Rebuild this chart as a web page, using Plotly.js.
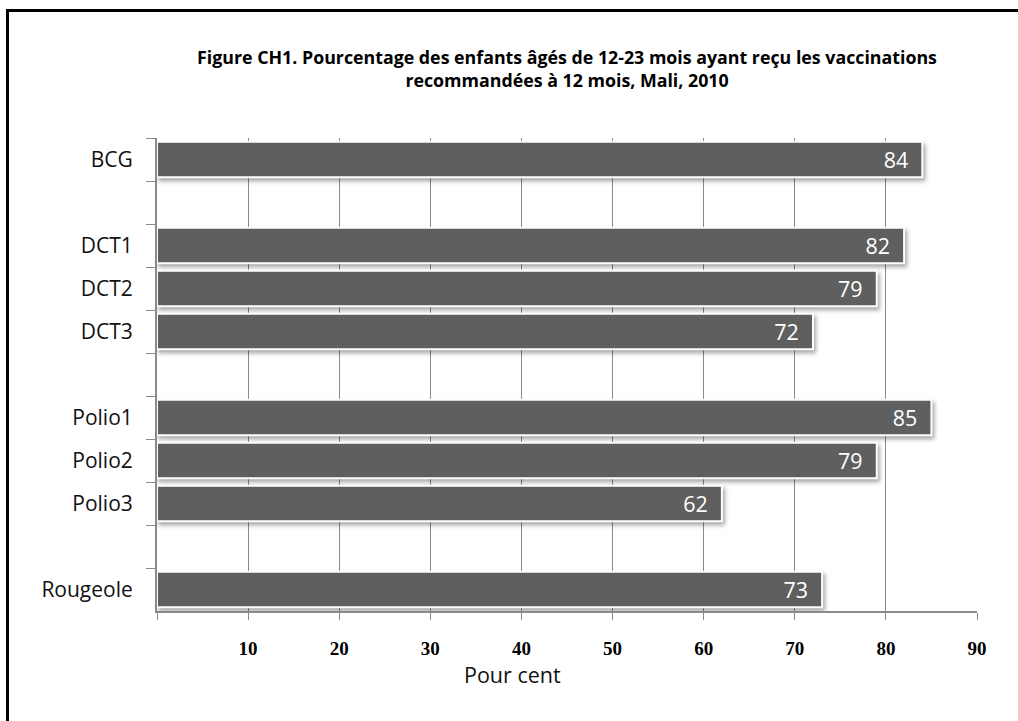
<!DOCTYPE html>
<html>
<head>
<meta charset="utf-8">
<script src="https://cdn.plot.ly/plotly-3.0.1.min.js"></script>
<style>
  html, body { margin: 0; padding: 0; background: #fff; }
  #frame {
    position: absolute; left: 6px; top: 9px; width: 1040px; height: 740px;
    border-left: 3px solid #000; border-top: 3px solid #000; pointer-events: none;
  }
  #chart { position: absolute; left: 0; top: 0; width: 1018px; height: 721px; }
  .barlayer .point path { filter: drop-shadow(2px 3px 2px rgba(0,0,0,0.35)); }
</style>
</head>
<body>
<div id="chart"></div>
<div id="frame"></div>
<script>
// Vaccination coverage, children aged 12-23 months, Mali 2010
const vaccines = ["BCG", "DCT1", "DCT2", "DCT3", "Polio1", "Polio2", "Polio3", "Rougeole"];
const coverage = [84, 82, 79, 72, 85, 79, 62, 73];
// Row order on the axis; blank rows separate the vaccine groups
const rowOrder = ["BCG", " ", "DCT1", "DCT2", "DCT3", "  ", "Polio1", "Polio2", "Polio3", "   ", "Rougeole"];
const xTickVals = [0, 10, 20, 30, 40, 50, 60, 70, 80, 90];
const xTickText = ["", "10", "20", "30", "40", "50", "60", "70", "80", "90"];

const trace = {
  type: "bar",
  orientation: "h",
  y: vaccines,
  x: coverage,
  // non-breaking spaces keep the value clear of the bar end
  texttemplate: "%{x}\u00a0\u00a0",
  textposition: "inside",
  insidetextanchor: "end",
  textfont: { family: "Open Sans, sans-serif", size: 22, color: "#ffffff" },
  marker: { color: "#5f5f5f", line: { color: "#ffffff", width: 2 } },
  width: 0.82,
  hoverinfo: "skip",
  cliponaxis: false
};

const layout = {
  width: 1018,
  height: 721,
  paper_bgcolor: "#ffffff",
  plot_bgcolor: "#ffffff",
  margin: { l: 157, r: 41, t: 138, b: 110, pad: 0 },
  showlegend: false,
  title: {
    text: "<b>Figure CH1. Pourcentage des enfants âgés de 12-23 mois ayant reçu les vaccinations<br>recommandées à 12 mois, Mali, 2010</b>",
    font: { family: "Open Sans, sans-serif", size: 17.8, color: "#000" },
    x: 0.557, xanchor: "center",
    y: 0.911, yanchor: "middle"
  },
  xaxis: {
    range: [0, 90],
    tickmode: "array",
    tickvals: xTickVals,
    ticktext: xTickText,
    ticks: "outside",
    ticklen: 7,
    tickcolor: "#8a8a8a",
    tickwidth: 1,
    ticklabelstandoff: 12,
    tickfont: { family: "Liberation Serif, serif", size: 19, color: "#000", weight: "bold" },
    showgrid: true,
    gridcolor: "#8a8a8a",
    gridwidth: 1,
    showline: true,
    linecolor: "#8a8a8a",
    linewidth: 2,
    zeroline: false,
    fixedrange: true
  },
  yaxis: {
    type: "category",
    categoryorder: "array",
    categoryarray: rowOrder,
    range: [10.5, -0.5],
    tickson: "boundaries",
    ticks: "outside",
    ticklen: 9,
    tickcolor: "#8a8a8a",
    tickwidth: 1,
    ticklabelstandoff: 18,
    tickfont: { family: "Open Sans, sans-serif", size: 21, color: "#111" },
    showgrid: false,
    showline: true,
    linecolor: "#8a8a8a",
    linewidth: 2,
    zeroline: false,
    fixedrange: true
  },
  annotations: [{
    text: "Pour cent",
    xref: "paper", yref: "paper",
    x: 0.434, y: -0.135,
    xanchor: "center", yanchor: "middle",
    showarrow: false,
    font: { family: "Open Sans, sans-serif", size: 21.5, color: "#111" }
  }]
};

Plotly.newPlot("chart", [trace], layout, { staticPlot: true, displayModeBar: false });
</script>
</body>
</html>
